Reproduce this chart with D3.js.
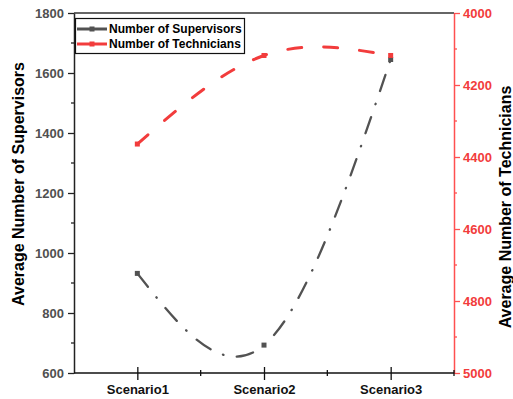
<!DOCTYPE html>
<html>
<head>
<meta charset="utf-8">
<script src="https://cdn.jsdelivr.net/npm/d3@7"></script>
<style>
  html, body { margin: 0; padding: 0; background: #fff; }
  svg { display: block; font-family: "Liberation Sans", Arial, sans-serif; }
</style>
</head>
<body>
<svg id="chart" width="513" height="399"></svg>
<script>
// Scenario categories and the two averaged series
const scenarios = ["Scenario1", "Scenario2", "Scenario3"];
const supervisors = [932, 693, 1645];
const technicians = [4364, 4118, 4118];

// Axis tick values
const leftTicks = [600, 800, 1000, 1200, 1400, 1600, 1800];
const leftMinor = [700, 900, 1100, 1300, 1500, 1700];
const rightTicks = [4000, 4200, 4400, 4600, 4800, 5000];
const rightMinor = [4100, 4300, 4500, 4700, 4900];

const seriesNames = ["Number of Supervisors", "Number of Technicians"];

const grey = "#525252";
const red = "#f23c3c";
const redAxis = "#ff5050";

const svg = d3.select("#chart");
const m = { left: 74, right: 454, top: 13, bottom: 373 };

const x = d3.scalePoint().domain(scenarios).range([m.left, m.right]).padding(0.5);
const yL = d3.scaleLinear().domain([600, 1800]).range([m.bottom, m.top]);
const yR = d3.scaleLinear().domain([4000, 5000]).range([m.top, m.bottom]);

// frame: top edge
svg.append("line")
  .attr("x1", m.left).attr("x2", m.right).attr("y1", m.top).attr("y2", m.top)
  .attr("stroke", "#333").attr("stroke-width", 1.5);

function styleAxis(g, color, labelColor) {
  g.select(".domain").attr("stroke", color).attr("stroke-width", 1.5);
  g.selectAll(".tick line").attr("stroke", color).attr("stroke-width", 1.3);
  g.selectAll(".tick text")
    .attr("fill", labelColor)
    .style("font-size", "13px")
    .style("font-weight", "bold");
}

const fmt = d3.format("d");

// left axis
const gL = svg.append("g").attr("transform", `translate(${m.left},0)`)
  .call(d3.axisLeft(yL).tickValues(leftTicks).tickFormat(fmt).tickSize(6).tickPadding(4).tickSizeOuter(0));
styleAxis(gL, "#222", "#505050");
gL.selectAll(".minor").data(leftMinor).enter().append("line")
  .attr("x1", -3).attr("x2", 0).attr("y1", d => yL(d)).attr("y2", d => yL(d))
  .attr("stroke", "#222").attr("stroke-width", 1.3);

// right axis
const gR = svg.append("g").attr("transform", `translate(${m.right},0)`)
  .call(d3.axisRight(yR).tickValues(rightTicks).tickFormat(fmt).tickSize(6).tickPadding(3).tickSizeOuter(0));
styleAxis(gR, redAxis, red);
gR.selectAll(".minor").data(rightMinor).enter().append("line")
  .attr("x1", 0).attr("x2", 3).attr("y1", d => yR(d)).attr("y2", d => yR(d))
  .attr("stroke", redAxis).attr("stroke-width", 1.3);

// bottom axis
const gB = svg.append("g").attr("transform", `translate(0,${m.bottom})`)
  .call(d3.axisBottom(x).tickSize(7).tickPadding(5).tickSizeOuter(0));
styleAxis(gB, "#111", "#111");
gB.select(".domain").attr("d", `M${m.left},0H${m.right}`);
gB.selectAll(".tick line").attr("y1", -6);
const step = x.step();
const minorX = scenarios.slice(0, -1).map(s => x(s) + step / 2);
gB.selectAll(".minor").data(minorX).enter().append("line")
  .attr("x1", d => d).attr("x2", d => d).attr("y1", -3).attr("y2", 3)
  .attr("stroke", "#111").attr("stroke-width", 1.3);
gB.append("line").attr("x1", m.right).attr("x2", m.right).attr("y1", -3).attr("y2", 3)
  .attr("stroke", "#111").attr("stroke-width", 1.3);

// axis titles
svg.append("text")
  .attr("transform", `translate(24,184) rotate(-90)`)
  .attr("text-anchor", "middle")
  .style("font-size", "16px").style("font-weight", "bold")
  .attr("fill", "#000")
  .text("Average Number of Supervisors");
svg.append("text")
  .attr("transform", `translate(511,207) rotate(-90)`)
  .attr("text-anchor", "middle")
  .style("font-size", "16px").style("font-weight", "bold")
  .attr("fill", "#000")
  .text("Average Number of Technicians");

// series lines
const lineL = d3.line().x((d, i) => x(scenarios[i])).y(d => yL(d)).curve(d3.curveNatural);
const lineR = d3.line().x((d, i) => x(scenarios[i])).y(d => yR(d)).curve(d3.curveNatural);

svg.append("path").datum(supervisors)
  .attr("d", lineL).attr("fill", "none")
  .attr("stroke", grey).attr("stroke-width", 2.3)
  .attr("stroke-linecap", "round")
  .attr("stroke-dasharray", "17,13.5,0.5,13.5");

svg.selectAll(".supMark").data(supervisors).enter().append("rect")
  .attr("x", (d, i) => x(scenarios[i]) - 2.5).attr("y", d => yL(d) - 2.5)
  .attr("width", 5).attr("height", 5).attr("fill", grey);

svg.append("path").datum(technicians)
  .attr("d", lineR).attr("fill", "none")
  .attr("stroke", red).attr("stroke-width", 3)
  .attr("stroke-linecap", "round")
  .attr("stroke-dasharray", "14,22");

svg.selectAll(".techMark").data(technicians).enter().append("rect")
  .attr("x", (d, i) => x(scenarios[i]) - 2.5).attr("y", d => yR(d) - 2.5)
  .attr("width", 5).attr("height", 5).attr("fill", red);

// legend
const lg = svg.append("g");
lg.append("rect").attr("x", 75.5).attr("y", 18.5).attr("width", 169).attr("height", 35)
  .attr("fill", "#fff").attr("stroke", "#111").attr("stroke-width", 1.2);
const legendColors = [grey, red];
seriesNames.forEach((name, i) => {
  const yy = 29 + i * 15;
  lg.append("line").attr("x1", 77).attr("x2", 107).attr("y1", yy).attr("y2", yy)
    .attr("stroke", legendColors[i]).attr("stroke-width", 3);
  lg.append("rect").attr("x", 89.5).attr("y", yy - 2.5).attr("width", 5).attr("height", 5)
    .attr("fill", legendColors[i]);
  lg.append("text").attr("x", 109).attr("y", yy + 4.3)
    .style("font-size", "12px").style("font-weight", "bold").attr("fill", "#000")
    .text(name);
});
</script>
</body>
</html>
